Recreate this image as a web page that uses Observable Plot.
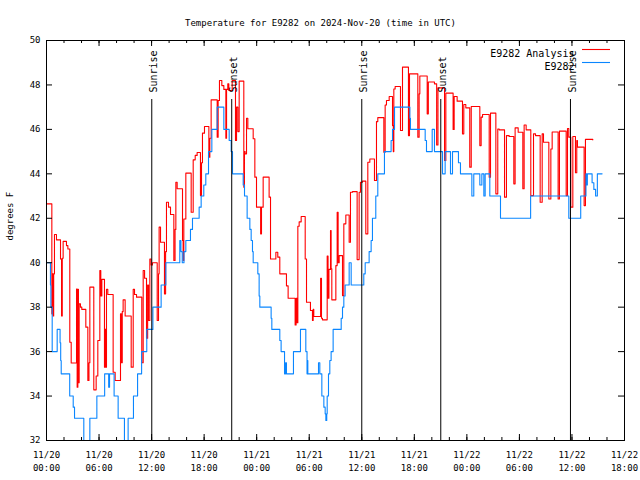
<!DOCTYPE html>
<html><head><meta charset="utf-8">
<script src="https://cdn.jsdelivr.net/npm/d3@7"></script>
<script src="https://cdn.jsdelivr.net/npm/@observablehq/plot@0.6"></script>
<style>body{margin:0;background:#fff}</style>
</head><body><div id="chart"></div>
<script>
const title = "Temperature for E9282 on 2024-Nov-20 (time in UTC)";
const yLabel = "degrees F";
const startTime = "2024-11-20T00:00:00Z";
const seriesNames = ["E9282 Analysis", "E9282"];
const seriesColors = ["#ff0000", "#0a86ff"];
const xTickHours = [0, 6, 12, 18, 24, 30, 36, 42, 48, 54, 60, 66];
const xMinorHours = d3.range(0, 67, 2);
const yTicks = [32, 34, 36, 38, 40, 42, 44, 46, 48, 50];
const sunLabels = ["Sunrise", "Sunset", "Sunrise", "Sunset", "Sunrise"];
const sunHours = [12.02, 21.15, 36.0, 45.02, 59.83];

// [hours since start, degrees F]
const analysis = [
[0,42.65],[0.61,37.7],[0.68,39.5],[0.75,37.6],[0.82,39.5],[0.91,41.27],[1.14,41.03],[1.6,40.17],[1.72,37.6],[1.8,40.2],[1.9,40.96],[2.28,40.77],[2.44,40.62],[2.66,36.42],[2.82,35.49],[3.43,38.82],[3.5,34.4],[3.58,38.8],[3.65,34.6],[3.73,38.15],[3.88,38.0],[4.03,37.9],[4.49,37.1],[4.72,34.7],[4.85,35.5],[4.95,38.9],[5.4,34.28],[5.67,34.9],[5.86,36.5],[6.09,39.65],[6.2,38.5],[6.32,39.25],[6.62,35.3],[6.7,37.0],[6.78,35.3],[6.85,38.8],[7.0,38.57],[7.61,35.07],[7.84,34.7],[8.45,37.7],[8.55,35.5],[8.65,37.8],[8.75,38.33],[8.98,37.6],[9.67,35.3],[9.9,38.8],[10.05,38.57],[10.28,38.45],[10.88,35.5],[11.04,39.65],[11.2,39.3],[11.42,36.6],[11.55,39.0],[11.65,37.4],[11.8,40.17],[11.95,39.9],[12.1,40.0],[12.64,37.4],[12.79,39.5],[12.86,41.6],[13.02,40.92],[13.47,38.6],[13.6,40.5],[13.7,42.72],[13.93,42.5],[14.16,42.17],[14.54,40.1],[14.68,41.5],[14.77,43.62],[14.92,43.33],[15.53,41.0],[15.6,40.1],[15.68,41.97],[15.91,44.03],[16.52,42.27],[16.75,44.63],[16.98,44.83],[17.2,44.96],[17.58,43.02],[17.7,44.5],[17.81,45.83],[18.04,46.13],[18.54,44.75],[18.65,45.6],[18.8,47.33],[19.49,45.65],[19.6,47.3],[19.75,48.2],[20.02,47.97],[20.25,47.8],[20.48,45.6],[20.56,47.8],[20.7,48.05],[20.82,47.75],[21.2,48.2],[21.58,45.5],[21.7,47.0],[21.85,45.9],[22.0,48.17],[22.53,43.4],[22.6,45.0],[22.68,44.9],[22.84,46.5],[22.99,46.03],[23.6,45.58],[23.79,43.85],[23.98,42.5],[24.45,41.3],[24.55,42.5],[24.74,43.85],[25.42,42.95],[25.58,40.17],[26.19,40.47],[26.41,40.25],[26.64,39.5],[27.4,38.96],[27.59,38.4],[28.39,37.2],[28.5,38.4],[28.62,37.3],[28.7,41.64],[28.85,41.84],[29.08,42.08],[29.54,40.17],[29.69,38.22],[30.14,37.85],[30.37,37.4],[30.45,37.9],[30.52,37.58],[31.3,39.3],[31.4,37.5],[31.51,37.43],[32.05,40.3],[32.15,38.4],[32.25,39.7],[32.43,41.45],[32.5,39.73],[32.58,38.33],[33.04,39.87],[33.19,42.27],[33.3,40.0],[33.42,40.32],[33.8,38.52],[33.95,41.75],[34.18,42.15],[34.56,40.92],[34.71,43.17],[34.94,43.2],[35.47,40.14],[35.7,43.17],[35.85,43.62],[36.08,43.67],[36.46,41.3],[36.69,44.52],[36.92,44.67],[37.45,43.7],[37.68,46.35],[37.83,46.53],[38.52,44.97],[38.67,47.1],[38.82,47.3],[39.13,47.48],[39.51,46.17],[39.6,45.0],[39.66,47.82],[39.81,47.93],[40.42,45.95],[40.65,48.8],[41.33,45.72],[41.45,48.5],[42.4,45.65],[42.55,47.6],[42.63,48.4],[43.47,46.7],[43.6,48.13],[44.3,48.05],[44.55,45.3],[44.7,47.87],[45.45,44.6],[45.6,47.63],[46.43,46.0],[46.55,47.48],[46.89,47.27],[47.5,45.8],[47.65,47.12],[47.88,46.97],[48.33,44.3],[48.5,47.03],[49.48,45.27],[49.63,46.55],[49.79,46.67],[50.55,43.85],[50.7,46.73],[51.31,43.1],[51.53,46.02],[51.69,45.98],[52.3,42.95],[52.52,45.72],[52.83,45.68],[53.36,43.55],[53.51,46.07],[53.86,45.87],[54.39,43.33],[54.54,46.2],[54.77,45.98],[55.3,43.02],[55.61,45.8],[55.84,45.72],[56.37,42.72],[56.6,45.8],[56.75,45.42],[57.36,42.87],[57.59,45.12],[57.74,45.88],[58.42,42.87],[58.57,45.92],[59.34,43.02],[59.49,46.04],[59.64,45.65],[59.87,42.5],[60.1,45.68],[60.4,44.05],[60.55,45.5],[60.63,45.2],[61.39,42.57],[61.54,45.55],[62.38,45.53]
];
const observed = [
[0,40],[0.45,39],[0.5,38],[0.65,36],[1.22,37],[1.55,36.4],[1.62,35.6],[1.68,35],[2.65,34],[3.05,33.5],[3.2,33],[4.26,31.5],[4.95,33],[5.75,34],[6.64,35],[7.1,34.4],[7.2,35],[7.72,34],[8.18,33],[8.9,31.5],[9.32,33],[9.93,34],[10.4,35],[10.86,36],[11.45,37],[12.15,38],[13.09,39],[13.63,40],[15.22,41],[15.35,40.5],[15.5,40],[15.7,40.5],[15.91,41],[16.44,41.5],[16.67,42],[17.43,42.5],[17.66,43],[17.96,43.5],[18.19,44],[18.5,45],[18.88,46],[19.49,47],[20.25,46],[20.86,45.5],[21.09,45],[21.24,44],[22.46,43.5],[22.61,43],[22.91,42],[23.22,41.5],[23.37,41],[23.52,40.5],[23.6,40],[24.13,39.5],[24.28,38.5],[24.36,38],[25.65,37.5],[25.73,37],[26.64,36.5],[26.79,36],[27.18,35],[27.3,35.5],[27.4,35],[28.2,36],[29.0,37],[29.61,36],[29.75,35],[29.8,35.6],[29.84,35],[31.06,35.5],[31.21,35],[31.44,34],[31.67,33.5],[31.82,33.2],[31.9,32.9],[32.0,33.2],[32.05,34],[32.2,35],[32.35,35.6],[32.5,36],[32.73,37],[33.65,37.5],[33.8,38],[33.95,38.5],[34.1,39],[34.56,40],[34.79,39],[36.23,39.5],[36.39,40],[36.84,40.5],[37.07,41],[37.22,42],[37.6,43],[37.83,44],[38.59,45],[39.35,45.5],[39.51,46],[39.74,47],[41.49,46.5],[41.56,46],[43.24,45.5],[43.39,45],[44.04,46],[44.3,45],[45.22,44],[45.52,45],[46.13,44],[46.36,45],[47.04,44.5],[47.27,44],[48.57,43],[48.79,44],[49.48,43.5],[49.71,44],[49.94,43],[50.09,44],[50.62,43],[51.84,42],[55.28,43],[59.64,42],[61.0,43],[61.6,44],[61.68,43.5],[61.76,44],[62.15,44],[62.3,43.6],[62.5,43.3],[62.7,43],[62.9,44],[63.44,44]
];

const t0 = new Date(startTime);
const toDate = h => new Date(+t0 + h * 3600e3);
const rowsA = analysis.map(([h, v]) => ({t: toDate(h), v}));
const rowsO = observed.map(([h, v]) => ({t: toDate(h), v}));
const sun = sunHours.map((h, i) => ({t: toDate(h), label: sunLabels[i]}));
const xTickDates = xTickHours.map(toDate);
const xMinorDates = xMinorHours.map(toDate);
const fmt = d3.utcFormat("%m/%d\n%H:%M");

const legendLines = (index, scales, values, dims) => {
  const g = d3.create("svg:g");
  const xr = dims.width - dims.marginRight;
  seriesNames.forEach((n, i) => {
    g.append("line")
      .attr("x1", xr - 42).attr("x2", xr - 14)
      .attr("y1", dims.marginTop + 9.5 + 13 * i).attr("y2", dims.marginTop + 9.5 + 13 * i)
      .attr("stroke", seriesColors[i]).attr("stroke-width", 1.1);
  });
  return g.node();
};

const FS = 9;
const chart = Plot.plot({
  width: 640, height: 480,
  marginLeft: 46, marginRight: 16, marginTop: 40, marginBottom: 40,
  style: {fontFamily: "'DejaVu Sans Mono', monospace", fontSize: FS + "px", background: "white", color: "black"},
  x: {type: "utc", domain: [toDate(0), toDate(66)], label: null},
  y: {domain: [32, 50], label: null},
  marks: [
    Plot.line(rowsA, {x: "t", y: "v", curve: "step-after", stroke: seriesColors[0], strokeWidth: 1.1, clip: true}),
    Plot.line(rowsO, {x: "t", y: "v", curve: "step-after", stroke: seriesColors[1], strokeWidth: 1.1, clip: true}),
    Plot.ruleX(sun, {x: "t", insetTop: 59, stroke: "black", strokeWidth: 1}),
    Plot.text(sun, {x: "t", text: "label", frameAnchor: "top", dy: 52, dx: -2, rotate: -90, textAnchor: "start", fontSize: FS + 1}),
    Plot.tickX(xMinorDates, {x: d => d, insetTop: 397}),
    Plot.tickX(xMinorDates, {x: d => d, insetBottom: 397}),
    Plot.tickX(xTickDates, {x: d => d, insetTop: 394}),
    Plot.tickX(xTickDates, {x: d => d, insetBottom: 394}),
    Plot.tickY(yTicks, {y: d => d, insetRight: 572}),
    Plot.tickY(yTicks, {y: d => d, insetLeft: 572}),
    Plot.axisX(xTickDates, {tickFormat: fmt, tickSize: 0, tickPadding: 8, lineHeight: 1.45, fontSize: FS, label: null}),
    Plot.axisY(yTicks, {tickSize: 0, tickPadding: 6, label: null, fontSize: FS}),
    Plot.frame({stroke: "black"}),
    Plot.text([title], {frameAnchor: "top", dy: -21, dx: -15, fontSize: FS}),
    Plot.text([yLabel], {frameAnchor: "left", dx: -36, rotate: -90, fontSize: FS}),
    Plot.text([seriesNames[0]], {frameAnchor: "top-right", dx: -50, dy: 9, textAnchor: "end", fontSize: FS + 1}),
    Plot.text([seriesNames[1]], {frameAnchor: "top-right", dx: -50, dy: 22, textAnchor: "end", fontSize: FS + 1}),
    legendLines
  ]
});
document.getElementById("chart").appendChild(chart);
</script>
</body></html>
